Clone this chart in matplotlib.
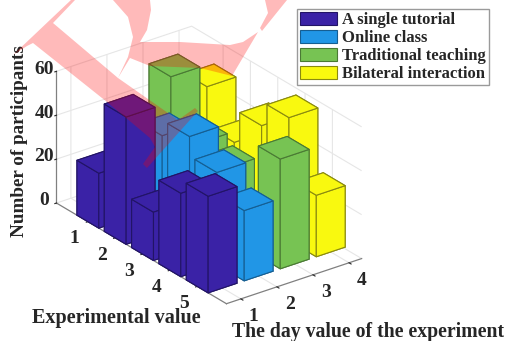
import matplotlib
matplotlib.use("Agg")
import matplotlib.pyplot as plt
from matplotlib.patches import Patch, Polygon
from matplotlib.transforms import Affine2D

# Participants per experimental value, one list per teaching mode (one per day)
experiment_values = [1, 2, 3, 4, 5]
day_values = [1, 2, 3, 4]
single_tutorial = [25, 58, 22, 38, 44]
online_class = [30, 44, 51, 42, 32]
traditional_teaching = [58, 35, 31, 15, 50]
bilateral_interaction = [48, 30, 45, 56, 28]
series_names = ["A single tutorial", "Online class",
                "Traditional teaching", "Bilateral interaction"]
series_colors = ["#3A22A6", "#2196E6", "#77C353", "#F9F90F"]
edge_colors = ["#221466", "#155E92", "#4A7A34", "#8A8A10"]
z_ticks = [0, 20, 40, 60]

W, H = 509, 341
plt.rcParams["font.family"] = ["Liberation Serif", "DejaVu Serif"]
plt.rcParams["font.weight"] = "bold"
TEXT = "#262626"

fig = plt.figure(figsize=(W / 100, H / 100), dpi=100, facecolor="white")
side = 300
ax = fig.add_axes([55 / W, 22 / H, side / W, side / H], projection="3d",
                  computed_zorder=False)
ax.set_proj_type("ortho")
ax.view_init(elev=26.4, azim=-36.9)
ax.set_box_aspect((283, 169, 147), zoom=350.5 / side)
ax.set_xlim(-0.15, 6.07, view_margin=0)
ax.set_ylim(0.6, 4.35, view_margin=0)
ax.set_zlim(0, 60, view_margin=0)
ax.patch.set_alpha(0)

# Painter's order: far rows and far columns first
all_series = [single_tutorial, online_class, traditional_teaching, bilateral_interaction]
order = 10
for d in reversed(range(len(day_values))):
    for e in range(len(experiment_values)):
        ax.bar3d(experiment_values[e] - 0.4, day_values[d] - 0.4, 0, 0.8, 0.8,
                 all_series[d][e], color=series_colors[d],
                 edgecolor=edge_colors[d], linewidth=0.8, shade=False,
                 zorder=order)
        order += 1

ax.set_xticks(experiment_values)
ax.set_yticks(day_values)
ax.set_zticks(z_ticks)
ax.zaxis.set_ticks_position("lower")
ax.tick_params(axis="x", labelsize=14, pad=3, colors=TEXT)
ax.tick_params(axis="y", labelsize=14, pad=0.5, colors=TEXT)
ax.tick_params(axis="z", labelsize=14, pad=-3.5, colors=TEXT)
for axis in (ax.xaxis, ax.yaxis, ax.zaxis):
    for tick in axis.get_major_ticks():
        tick.label1.set_va("center")
        tick.label1.set_ha("center")

for axis in (ax.xaxis, ax.yaxis, ax.zaxis):
    axis.set_pane_color((1, 1, 1, 0))
    axis.pane.set_edgecolor("#e4e4e4")
    axis.line.set_color("#808080")
    axis.line.set_linewidth(0.9)
    axis._axinfo["grid"].update(color="#e6e6e6", linewidth=0.8)
    axis._axinfo["tick"].update(inward_factor=0.15, outward_factor=0.0, linewidth={True: 0.8, False: 0.5})
    axis._axinfo["tick"]["color"] = "#808080"

# Horizontal and vertical axis titles
fig.text(116 / W, 1 - 318 / H, "Experimental value", ha="center", va="center",
         fontsize=14.5, color=TEXT)
fig.text(368 / W, 1 - 332 / H, "The day value of the experiment", ha="center",
         va="center", fontsize=14.2, color=TEXT)
fig.text(20 / W, 1 - 141 / H, "Number of participants", ha="center", va="center",
         rotation=90, fontsize=13.8, color=TEXT)

handles = [Patch(facecolor=c, edgecolor=e, linewidth=0.8, label=n)
           for c, e, n in zip(series_colors, edge_colors, series_names)]
fig.legend(handles=handles, loc="upper left", bbox_to_anchor=(296.5 / W, 1 - 9 / H),
           frameon=True, fancybox=False, edgecolor="#9a9a9a", framealpha=1,
           fontsize=12, borderpad=0.2, labelspacing=0.1, handlelength=2.2,
           handleheight=0.8, handletextpad=0.3, borderaxespad=0, labelcolor=TEXT)

# Translucent red stamp laid over the whole figure, in pixel coordinates from the top left
to_fig = Affine2D().scale(1 / W, -1 / H).translate(0, 1) + fig.transFigure
stamp_parts = [
    [(13, 55), (71, 0), (75, 0), (53, 23), (118, 78), (178, 120), (195, 108), (198, 111),
     (147, 168), (143, 164), (155, 147), (150, 138), (107, 102), (33, 43), (27, 46)],
    [(113, 0), (128, 17), (133, 37), (128, 57), (118, 78), (130, 58), (150, 66), (200, 68),
     (232, 76), (258, 32), (243, 42), (230, 45), (180, 42), (140, 42), (147, 30), (151, 10),
     (150, 0)],
    [(262, 31), (287, 0), (265, 0), (268, 13), (260, 28)],
]
for part in stamp_parts:
    fig.add_artist(Polygon(part, closed=True, transform=to_fig, facecolor="red",
                           edgecolor="none", alpha=0.27, zorder=50))

fig.savefig("out.png", dpi=100)
